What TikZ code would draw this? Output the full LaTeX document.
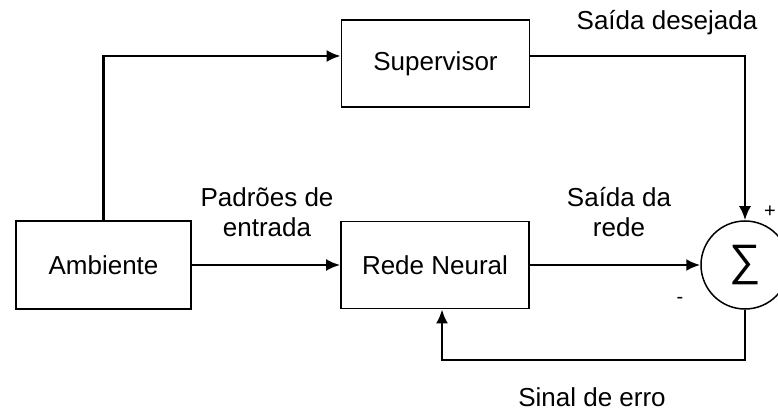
\documentclass[tikz,border=0pt]{standalone}
\usepackage{fontspec}
\setmainfont{Liberation Sans}
\usetikzlibrary{arrows.meta}

\tikzset{
  block/.style={draw, line width=1.8pt, minimum width=188pt, minimum height=87pt,
    font=\fontsize{26}{30}\selectfont},
  flow/.style={line width=2.4pt, -{Latex[length=14pt,width=12pt]}},
  lbl/.style={align=center, font=\fontsize{26}{30}\selectfont}
}

\begin{document}
\begin{tikzpicture}[x=1pt,y=-1pt]
            \useasboundingbox (0,0) rectangle (778,411);
            % blocos
            \node[block, minimum width=175pt, minimum height=88pt] (amb) at (103.5,265) {Ambiente};
            \node[block] (sup) at (435.5,63.5) {Supervisor};
            \node[block] (rede) at (435,265) {Rede Neural};
            \node[draw, circle, line width=1.5pt, minimum size=88pt, inner sep=0pt] (sum) at (745,265)
                {\fontsize{44}{44}\selectfont ∑};
            % ligacoes
            \draw[flow] (amb.north) |- ([yshift=7.5pt]sup.west);
            \draw[flow] ([yshift=7.5pt]sup.east) -| (sum.north);
            \draw[flow] (amb) -- (rede);
            \draw[flow] (rede) -- (sum);
            \draw[flow] (sum.south) -- ++(0,50) -| ([xshift=7pt]rede.south);
            % rotulos
            \node[lbl] (desej) at (667,23) {Saída desejada};
            \node[lbl] (padr) at (267,212) {Padrões de\\entrada};
            \node[lbl] (saida) at (619,212) {Saída da\\rede};
            \node[lbl] (erro) at (592,397) {Sinal de erro};
            \node[lbl, font=\fontsize{20}{20}\selectfont] (mais) at (770,212) {+};
            \node[lbl, font=\fontsize{20}{20}\selectfont] (menos) at (680,300) {-};
        \end{tikzpicture}
\end{document}
